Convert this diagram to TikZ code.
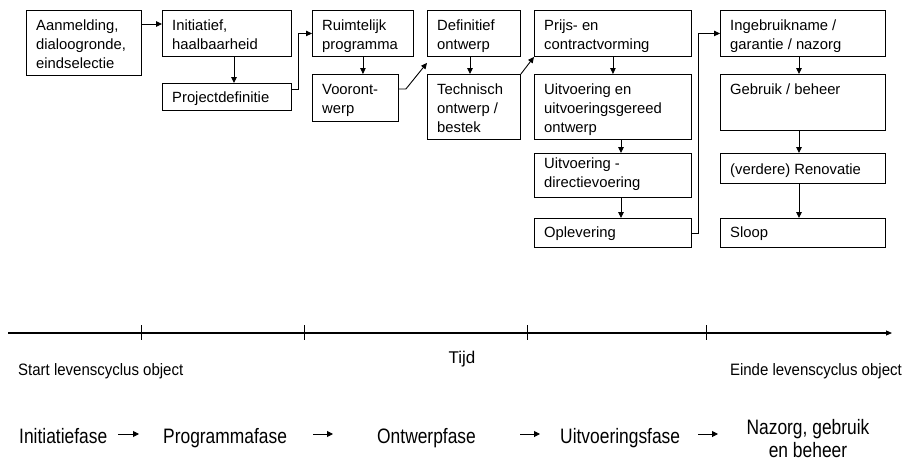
\documentclass[tikz,border=0pt]{standalone}
\usepackage{fontspec}
\setmainfont{Liberation Sans}
\usepackage{graphicx}
\usetikzlibrary{arrows.meta,calc}
\begin{document}
\begin{tikzpicture}[x=1pt,y=-1pt,
  box/.style={draw, line width=0.9pt, inner sep=0pt, anchor=north west, rectangle, fill=white},
  lbl/.style={anchor=north west, inner sep=0pt, align=left, font=\fontsize{14.8pt}{19pt}\selectfont},
  conn/.style={line width=0.9pt, -{Triangle[length=6pt,width=5.5pt]}},
  phase/.style={anchor=base west, inner sep=0pt, font=\fontsize{17.4pt}{23pt}\selectfont},
  parrow/.style={line width=1pt, -{Triangle[length=6pt,width=6pt]}},
]
\useasboundingbox (0,0) rectangle (906,463);

% boxes
\node[box, minimum width=115pt, minimum height=65pt] (b1) at (26,10) {};
\node[box, minimum width=129pt, minimum height=46pt] (b2) at (162,10) {};
\node[box, minimum width=129pt, minimum height=27pt] (b3) at (162,83) {};
\node[box, minimum width=101pt, minimum height=46pt] (b4) at (312,10) {};
\node[box, minimum width=86pt, minimum height=47pt] (b5) at (312,74) {};
\node[box, minimum width=93pt, minimum height=46pt] (b6) at (427,10) {};
\node[box, minimum width=93pt, minimum height=65pt] (b7) at (427,74) {};
\node[box, minimum width=157pt, minimum height=46pt] (b8) at (534,10) {};
\node[box, minimum width=157pt, minimum height=65pt] (b9) at (534,74) {};
\node[box, minimum width=157pt, minimum height=44pt] (b10) at (534,153) {};
\node[box, minimum width=157pt, minimum height=29pt] (b11) at (534,218) {};
\node[box, minimum width=165pt, minimum height=46pt] (b12) at (720,10) {};
\node[box, minimum width=165pt, minimum height=56pt] (b13) at (720,74) {};
\node[box, minimum width=165pt, minimum height=30pt] (b14) at (720,153) {};
\node[box, minimum width=165pt, minimum height=29pt] (b15) at (720,218) {};

% box texts
\node[lbl] (l1) at ([xshift=10pt,yshift=-9.5pt]b1.north west) {\rule{0pt}{11pt}Aanmelding,\\dialoogronde,\\eindselectie};
\node[lbl] (l2) at ([xshift=10pt,yshift=-9.5pt]b2.north west) {\rule{0pt}{11pt}Initiatief,\\haalbaarheid};
\node[lbl] (l3) at ([xshift=10pt,yshift=-8pt]b3.north west) {\rule{0pt}{11pt}Projectdefinitie};
\node[lbl] (l4) at ([xshift=10pt,yshift=-9.5pt]b4.north west) {\rule{0pt}{11pt}Ruimtelijk\\programma};
\node[lbl] (l5) at ([xshift=10pt,yshift=-9.5pt]b5.north west) {\rule{0pt}{11pt}Vooront-\\werp};
\node[lbl] (l6) at ([xshift=10pt,yshift=-9.5pt]b6.north west) {\rule{0pt}{11pt}Definitief\\ontwerp};
\node[lbl] (l7) at ([xshift=10pt,yshift=-9.5pt]b7.north west) {\rule{0pt}{11pt}Technisch\\ontwerp /\\bestek};
\node[lbl] (l8) at ([xshift=10pt,yshift=-9pt]b8.north west) {\rule{0pt}{11pt}Prijs- en\\contractvorming};
\node[lbl] (l9) at ([xshift=10pt,yshift=-9.5pt]b9.north west) {\rule{0pt}{11pt}Uitvoering en\\uitvoeringsgereed\\ontwerp};
\node[lbl] (l10) at ([xshift=10pt,yshift=-4.5pt]b10.north west) {\rule{0pt}{11pt}Uitvoering -\\directievoering};
\node[lbl] (l11) at ([xshift=10pt,yshift=-8pt]b11.north west) {\rule{0pt}{11pt}Oplevering};
\node[lbl] (l12) at ([xshift=10pt,yshift=-9pt]b12.north west) {\rule{0pt}{11pt}Ingebruikname /\\garantie / nazorg};
\node[lbl] (l13) at ([xshift=10pt,yshift=-9pt]b13.north west) {\rule{0pt}{11pt}Gebruik / beheer};
\node[lbl] (l14) at ([xshift=10pt,yshift=-10pt]b14.north west) {\rule{0pt}{11pt}(verdere) Renovatie};
\node[lbl] (l15) at ([xshift=10pt,yshift=-8pt]b15.north west) {\rule{0pt}{11pt}Sloop};

% connectors
\draw[conn] ([yshift=-14pt]b1.north east) -- ([yshift=-14pt]b2.north west);
\draw[conn] ([xshift=72pt]b2.south west) -- ([xshift=72pt]b3.north west);
\draw[conn] ([yshift=-6pt]b3.north east) -- ++(7,0) |- (b4.west);
\draw[conn] (b4.south) -- (b4.south |- b5.north);
\draw[conn] ([yshift=-15pt]b5.north east) -- ++(7,0) -- ([yshift=-6pt]b6.south west);
\draw[conn] ([xshift=43pt]b6.south west) -- ([xshift=43pt]b7.north west);
\draw[conn] (b7.north east) -- (b8.south west);
\draw[conn] (b8.south) -- (b8.south |- b9.north);
\draw[conn] ([xshift=87pt]b9.south west) -- ([xshift=87pt]b10.north west);
\draw[conn] ([xshift=87pt]b10.south west) -- ([xshift=87pt]b11.north west);
\draw[conn] (b11.east) -- ++(7,0) |- (b12.west);
\draw[conn] ([xshift=79pt]b12.south west) -- ([xshift=79pt]b13.north west);
\draw[conn] ([xshift=79pt]b13.south west) -- ([xshift=79pt]b14.north west);
\draw[conn] ([xshift=79pt]b14.south west) -- ([xshift=79pt]b15.north west);

% timeline
\coordinate (tl0) at (8,333);
\coordinate (tl1) at (892,333);
\draw[line width=1.1pt, -{Triangle[length=6pt,width=5pt]}] (tl0) -- (tl1);
\foreach \x in {141,304,527,706} \draw[line width=0.7pt] (\x,325) -- (\x,340);

\node[anchor=base, inner sep=0pt, font=\fontsize{17pt}{20pt}\selectfont] (tijd) at (462,363) {Tijd};
\node[anchor=base west, inner sep=0pt, font=\fontsize{15pt}{18pt}\selectfont] (start) at (18,375) {\scalebox{1}[1.1]{Start levenscyclus object}};
\node[anchor=base east, inner sep=0pt, font=\fontsize{15pt}{18pt}\selectfont] (einde) at (902,375) {\scalebox{1}[1.1]{Einde levenscyclus object}};

% phases
\node[phase] (p1) at (19,443) {\scalebox{1}[1.2]{Initiatiefase}};
\node[phase] (p2) at (163,443) {\scalebox{1}[1.2]{Programmafase}};
\node[phase] (p3) at (377,443) {\scalebox{1}[1.2]{Ontwerpfase}};
\node[phase] (p4) at (560,443) {\scalebox{1}[1.2]{Uitvoeringsfase}};
\node[phase, anchor=north, align=center] (p5) at (808,419.4) {\scalebox{1}[1.2]{\rule{0pt}{12.2pt}Nazorg, gebruik}\\\scalebox{1}[1.2]{en beheer}};

\coordinate (a1s) at (118,434); \coordinate (a1e) at (139,434);
\coordinate (a2s) at (313,434); \coordinate (a2e) at (333,434);
\coordinate (a3s) at (520,434); \coordinate (a3e) at (540,434);
\coordinate (a4s) at (698,434); \coordinate (a4e) at (718,434);
\draw[parrow] (a1s) -- (a1e);
\draw[parrow] (a2s) -- (a2e);
\draw[parrow] (a3s) -- (a3e);
\draw[parrow] (a4s) -- (a4e);
\end{tikzpicture}
\end{document}
